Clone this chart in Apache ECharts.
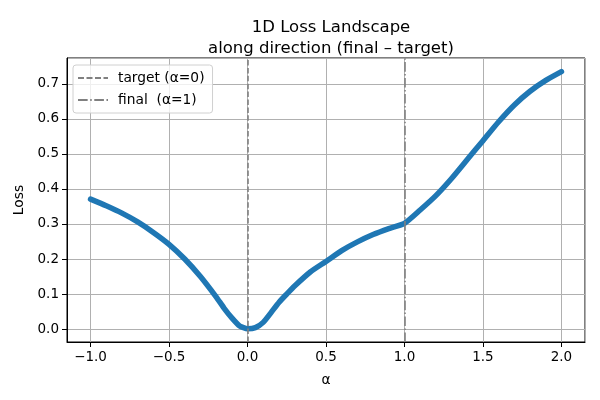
<!DOCTYPE html>
<html>
<head>
<meta charset="utf-8">
<script src="https://cdn.jsdelivr.net/npm/echarts@6/dist/echarts.min.js"></script>
<style>
  html, body { margin: 0; padding: 0; background: #fff; }
  #main { width: 600px; height: 400px; }
</style>
</head>
<body>
<div id="main"></div>
<script>
// values
var alphas = [-1.0, -0.9, -0.8, -0.7, -0.6, -0.5, -0.4, -0.3, -0.2, -0.15, -0.1, -0.05,
              0.0, 0.05, 0.1, 0.15, 0.2, 0.25, 0.3, 0.4, 0.5, 0.6, 0.7, 0.8, 0.9,
              1.0, 1.1, 1.2, 1.3, 1.4, 1.5, 1.6, 1.7, 1.8, 1.9, 2.0];
var losses = [0.371, 0.352, 0.331, 0.306, 0.276, 0.242, 0.200, 0.150, 0.092, 0.060, 0.032, 0.009,
              0.001, 0.004, 0.019, 0.047, 0.076, 0.100, 0.123, 0.163, 0.193, 0.224, 0.249, 0.270, 0.287,
              0.302, 0.340, 0.381, 0.430, 0.484, 0.538, 0.592, 0.640, 0.679, 0.710, 0.735];
var targetAlpha = 0;
var finalAlpha = 1;
var xRange = [-1.15, 2.15];
var yRange = [-0.037, 0.774];

var font = 'DejaVu Sans';
function fmt(v) {
    var s = v.toFixed(1);
    return s.charAt(0) === '-' ? '\u2212' + s.slice(1) : s;
}

// legend keys drawn as dash patterns
var dashIcon = 'path://M0,0h6v2h-6z M8.5,0h6v2h-6z M17,0h6v2h-6z M25.5,0h4.5v2h-4.5z';
var dashDotIcon = 'path://M0,0h9.5v2h-9.5z M12,0h1.5v2h-1.5z M16,0h9.5v2h-9.5z M28,0h1.5v2h-1.5z';

var chart = echarts.init(document.getElementById('main'));

var points = alphas.map(function (a, i) { return [a, losses[i]]; });

var option = {
    backgroundColor: '#fff',
    animation: false,
    textStyle: { fontFamily: font },
    title: {
        text: '1D Loss Landscape\nalong direction (final \u2013 target)',
        left: 326,
        textAlign: 'center',
        top: 12,
        textStyle: { fontFamily: font, fontSize: 16.5, fontWeight: 'normal', color: '#000', lineHeight: 21 }
    },
    grid: {
        left: 67, right: 15, top: 58, bottom: 58,
        show: true, borderColor: '#000', borderWidth: 1, backgroundColor: 'transparent'
    },
    legend: {
        left: 73, top: 65,
        orient: 'vertical',
        itemWidth: 30, itemHeight: 10, itemGap: 8,
        padding: [6, 8, 6, 5],
        borderColor: '#d0d0d0', borderWidth: 1, borderRadius: 3,
        backgroundColor: 'rgba(255,255,255,0.8)',
        textStyle: { fontFamily: font, fontSize: 13.8, color: '#000', padding: [0, 0, 0, 5] },
        data: [
            { name: 'target (\u03b1=0)', icon: dashIcon },
            { name: 'final  (\u03b1=1)', icon: dashDotIcon }
        ]
    },
    xAxis: {
        type: 'value',
        min: xRange[0], max: xRange[1],
        splitNumber: 6,
        name: '\u03b1', nameLocation: 'middle', nameGap: 31,
        nameTextStyle: { fontFamily: font, fontSize: 13.8, color: '#000' },
        axisLine: { show: true, onZero: false, lineStyle: { color: '#000', width: 1 } },
        axisTick: { show: true, length: 5, lineStyle: { color: '#000' } },
        axisLabel: { showMinLabel: false, showMaxLabel: false, fontFamily: font, fontSize: 13.5, color: '#000', margin: 8, formatter: fmt },
        splitLine: { show: true, lineStyle: { color: '#b0b0b0', width: 1 } }
    },
    yAxis: {
        type: 'value',
        min: yRange[0], max: yRange[1],
        splitNumber: 8,
        name: 'Loss', nameLocation: 'middle', nameGap: 41, nameRotate: 90,
        nameTextStyle: { fontFamily: font, fontSize: 13.8, color: '#000' },
        axisLine: { show: true, onZero: false, lineStyle: { color: '#000', width: 1 } },
        axisTick: { show: true, length: 5, lineStyle: { color: '#000' } },
        axisLabel: { showMinLabel: false, showMaxLabel: false, fontFamily: font, fontSize: 13.5, color: '#000', margin: 8, formatter: fmt },
        splitLine: { show: true, lineStyle: { color: '#b0b0b0', width: 1 } }
    },
    series: [
        {
            name: 'loss',
            type: 'line',
            data: points,
            smooth: 0.2,
            symbol: 'none',
            z: 3,
            lineStyle: { color: '#1f77b4', width: 5.5, cap: 'round', join: 'round' }
        },
        {
            name: 'target (\u03b1=0)',
            type: 'line',
            data: [],
            symbol: 'none',
            itemStyle: { color: '#808080' },
            lineStyle: { color: '#808080', width: 1.6, type: [5.5, 2.4] },
            markLine: {
                silent: true, symbol: 'none', label: { show: false },
                lineStyle: { color: '#808080', width: 1.6, type: [5.5, 2.4] },
                data: [{ xAxis: targetAlpha }]
            }
        },
        {
            name: 'final  (\u03b1=1)',
            type: 'line',
            data: [],
            symbol: 'none',
            itemStyle: { color: '#808080' },
            lineStyle: { color: '#808080', width: 1.6, type: [9.6, 2.4, 1.5, 2.4] },
            markLine: {
                silent: true, symbol: 'none', label: { show: false },
                lineStyle: { color: '#808080', width: 1.6, type: [9.6, 2.4, 1.5, 2.4] },
                data: [{ xAxis: finalAlpha }]
            }
        }
    ]
};
chart.setOption(option);
</script>
</body>
</html>
